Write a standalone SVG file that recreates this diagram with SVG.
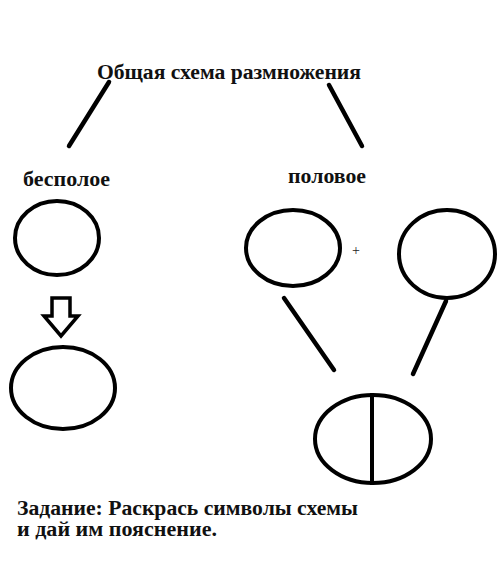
<svg xmlns="http://www.w3.org/2000/svg" width="500" height="570" viewBox="0 0 500 570">
<style>
.t{font-family:"Liberation Serif","Times New Roman",serif;font-weight:bold;fill:#111;font-size:20px}
.s{fill:none;stroke:#000;stroke-width:4}
.c{stroke:#000;stroke-width:4.5;stroke-linecap:round;fill:none}
</style>
<rect width="500" height="570" fill="#fff"/>
<g id="title"><text class="t" x="97" y="79" textLength="264" lengthAdjust="spacingAndGlyphs">Общая схема размножения</text></g>
<g id="asexual-label"><text class="t" x="23" y="186" textLength="87" lengthAdjust="spacingAndGlyphs">бесполое</text></g>
<g id="sexual-label"><text class="t" x="288" y="183" textLength="78" lengthAdjust="spacingAndGlyphs">половое</text></g>
<g id="parent-asexual"><ellipse class="s" cx="57" cy="238" rx="42" ry="37"/></g>
<g id="child-asexual"><ellipse class="s" cx="63" cy="388" rx="52" ry="41"/></g>
<g id="gamete1"><ellipse class="s" cx="293" cy="248" rx="47" ry="38"/></g>
<g id="plus"><text x="352" y="255" font-family="Liberation Serif,serif" font-size="14" fill="#222">+</text></g>
<g id="gamete2"><ellipse class="s" cx="447" cy="254" rx="48" ry="44"/></g>
<g id="zygote"><ellipse class="s" cx="373" cy="439" rx="58" ry="44"/><line x1="372" y1="393" x2="372" y2="485" stroke="#000" stroke-width="4"/></g>
<g id="connectors">
<line class="c" x1="109" y1="82" x2="69" y2="146"/>
<line class="c" x1="329" y1="85" x2="362" y2="146"/>
<line class="c" x1="284" y1="298" x2="334" y2="370"/>
<line class="c" x1="446" y1="301" x2="413" y2="374"/>
<path d="M52,298 H70 V316 H78 L61,336 L44,316 H52 Z" fill="none" stroke="#000" stroke-width="3.5" stroke-linejoin="miter"/>
</g>
<g id="task"><text class="t" x="17" y="515" textLength="341" lengthAdjust="spacingAndGlyphs">Задание: Раскрась символы схемы</text><text class="t" x="17" y="536" textLength="200" lengthAdjust="spacingAndGlyphs">и дай им пояснение.</text></g>
</svg>
